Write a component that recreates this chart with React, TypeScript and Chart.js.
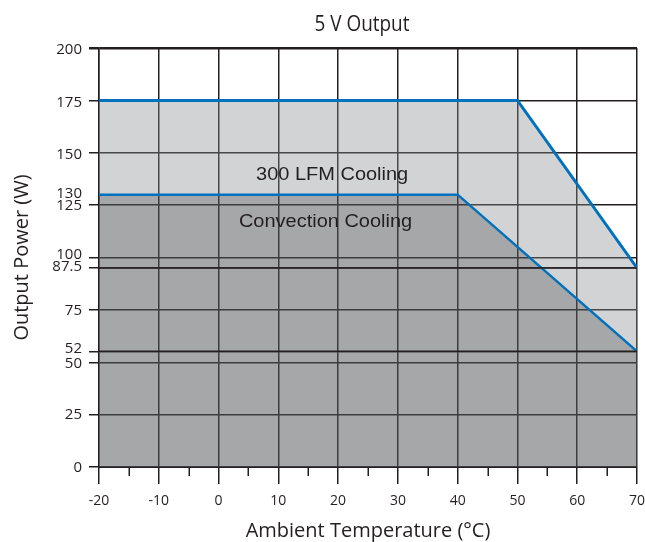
import { useEffect, useRef } from 'react';
import { Chart, registerables, LinearScale } from 'chart.js';

Chart.register(...registerables);

const chartTitle = '5 V Output';
const xTitle = 'Ambient Temperature (°C)';
const yTitle = 'Output Power (W)';

const xMajorTicks = [-20, -10, 0, 10, 20, 30, 40, 50, 60, 70];
const xMinorTicks = [-15, -5, 5, 15, 25, 35, 45, 55, 65];
const yTickValues = [0, 25, 50, 52, 75, 87.5, 100, 125, 130, 150, 175, 200];
const yTicksWithoutGrid = [130];

// The original artwork places the 52 and 87.5 gridlines slightly off the
// linear positions; the y axis follows these anchors piecewise-linearly.
const yAxisAnchorValues = [0, 50, 52, 75, 87.5, 100, 200];
const yAxisAnchorDrawnAt = [0, 50, 55.2, 75, 95, 100, 200];

const lfmTemps = [-20, 50, 70];
const lfmPower = [175, 175, 87.5];
const convTemps = [-20, 40, 70];
const convPower = [130, 130, 52];
const refLevels = [87.5, 52];

const areaLabels = ['300 LFM Cooling', 'Convection Cooling'];
const areaLabelTemps = [19, 17.9];
const areaLabelPower = [139.4, 117];

// vertical nudges (px) of crowded y tick labels, as in the original artwork
const yLabelNudge: Record<string, number> = {
  '200': 2, '175': 2, '150': 2, '130': -1, '125': 0.5, '100': -3, '87.5': -1,
  '75': 0.5, '52': -2.5, '50': 1.5, '25': 0, '0': 1,
};

const X_MIN = -20;
const X_MAX = 70;
const INK = '#231f20';
const BLUE = '#0071bc';

function interp(v: number, from: number[], to: number[]) {
  if (v <= from[0]) return to[0] + (v - from[0]);
  for (let i = 1; i < from.length; i++) {
    if (v <= from[i]) {
      const t = (v - from[i - 1]) / (from[i] - from[i - 1]);
      return to[i - 1] + t * (to[i] - to[i - 1]);
    }
  }
  return to[to.length - 1] + (v - from[from.length - 1]);
}

class WarpedLinearScale extends LinearScale {
  static id = 'warpedLinear';
  getPixelForValue(value: number) {
    return super.getPixelForValue(interp(value, yAxisAnchorValues, yAxisAnchorDrawnAt));
  }
  getValueForPixel(pixel: number) {
    return interp(super.getValueForPixel(pixel), yAxisAnchorDrawnAt, yAxisAnchorValues);
  }
}
Chart.register(WarpedLinearScale as any);

const decorPlugin = {
  id: 'decor',
  afterDraw(chart: any) {
    const { ctx, chartArea, scales } = chart;
    const x = scales.x;
    const y = scales.y;
    ctx.save();
    // minor x ticks
    ctx.strokeStyle = INK;
    ctx.lineWidth = 1.5;
    xMinorTicks.forEach((v) => {
      const px = Math.round(x.getPixelForValue(v)) + 0.25;
      ctx.beginPath();
      ctx.moveTo(px, chartArea.bottom);
      ctx.lineTo(px, chartArea.bottom + 9);
      ctx.stroke();
    });
    // y tick labels
    ctx.fillStyle = INK;
    ctx.textAlign = 'right';
    ctx.textBaseline = 'middle';
    ctx.font = "15px 'Open Sans'";
    yTickValues.forEach((v) => {
      const s = String(v);
      const py = y.getPixelForValue(v) + (yLabelNudge[s] || 0);
      ctx.fillText(s, chartArea.left - 17, py);
    });
    // area labels
    ctx.textAlign = 'center';
    ctx.font = "18px 'Liberation Sans'";
    areaLabels.forEach((t, i) => {
      const px = x.getPixelForValue(areaLabelTemps[i]);
      const py = y.getPixelForValue(areaLabelPower[i]);
      ctx.save();
      ctx.translate(px, py);
      ctx.scale(1.11, 1);
      ctx.fillText(t, 0, 0);
      ctx.restore();
    });
    // title
    ctx.save();
    ctx.font = "22px 'Open Sans'";
    ctx.translate((chartArea.left + chartArea.right) / 2 - 6, 25);
    ctx.scale(0.86, 1);
    ctx.fillText(chartTitle, 0, 0);
    ctx.restore();
    ctx.restore();
  },
};

export default function App() {
  const canvasRef = useRef<HTMLCanvasElement | null>(null);

  useEffect(() => {
    if (!canvasRef.current) return;
    const refDatasets = refLevels.map((lvl) => ({
      label: `ref ${lvl}`,
      data: [
        { x: X_MIN, y: lvl },
        { x: X_MAX, y: lvl },
      ],
      borderColor: INK,
      borderWidth: 1.5,
      pointRadius: 0,
      fill: false,
      order: 0,
    }));
    const chart = new Chart(canvasRef.current, {
      type: 'line',
      data: {
        datasets: [
          ...refDatasets,
          {
            label: 'Convection Cooling',
            data: convTemps.map((t, i) => ({ x: t, y: convPower[i] })),
            borderColor: BLUE,
            borderWidth: 2.5,
            backgroundColor: 'rgba(25,25,30,0.24)',
            fill: 'origin',
            pointRadius: 0,
            tension: 0,
            order: 1,
          },
          {
            label: '300 LFM Cooling',
            data: lfmTemps.map((t, i) => ({ x: t, y: lfmPower[i] })),
            borderColor: BLUE,
            borderWidth: 3,
            backgroundColor: 'rgba(137,139,143,0.38)',
            fill: 'origin',
            pointRadius: 0,
            tension: 0,
            order: 2,
          },
        ],
      },
      options: {
        animation: false,
        responsive: true,
        maintainAspectRatio: false,
        layout: { padding: { top: 48, right: 8, left: 0, bottom: 0 } },
        plugins: {
          legend: { display: false },
          tooltip: { enabled: false },
          title: { display: false },
        },
        scales: {
          x: {
            type: 'linear',
            min: X_MIN,
            max: X_MAX,
            afterBuildTicks: (s: any) => {
              s.ticks = xMajorTicks.map((v) => ({ value: v }));
            },
            afterFit: (s: any) => {
              s.height = 75;
              s.paddingLeft = 0;
              s.paddingRight = 0;
            },
            ticks: {
              autoSkip: false,
              maxRotation: 0,
              padding: 9,
              color: INK,
              font: { family: 'Open Sans', size: 14 },
            },
            grid: { color: INK, lineWidth: 1.5, tickLength: 17 },
            border: { display: true, color: INK, width: 2 },
            title: {
              display: true,
              text: xTitle,
              color: INK,
              font: { family: 'Open Sans', size: 20, lineHeight: 1.05 },
              padding: { top: 0, bottom: 0 },
            },
          },
          y: {
            type: 'warpedLinear',
            min: 0,
            max: 200,
            afterBuildTicks: (s: any) => {
              s.ticks = yTickValues.map((v) => ({ value: v }));
            },
            afterFit: (s: any) => {
              s.width = 99;
              s.paddingTop = 0;
              s.paddingBottom = 0;
            },
            ticks: {
              display: false,
              autoSkip: false,
            },
            grid: {
              color: (c: any) =>
                c.tick && yTicksWithoutGrid.includes(c.tick.value) ? 'rgba(0,0,0,0)' : INK,
              lineWidth: (c: any) => (c.tick && c.tick.value === 200 ? 2.5 : 1.5),
              tickLength: 10,
            },
            border: { display: true, color: INK, width: 1.5 },
            title: {
              display: true,
              text: yTitle,
              color: INK,
              font: { family: 'Open Sans', size: 20, lineHeight: 1.05 },
              padding: { top: 11.5, bottom: 0 },
            },
          },
        } as any,
      },
      plugins: [decorPlugin],
    });
    return () => chart.destroy();
  }, []);

  return (
    <div style={{ position: 'absolute', left: 0, top: 0, width: 645, height: 542 }}>
      <canvas ref={canvasRef} />
    </div>
  );
}
